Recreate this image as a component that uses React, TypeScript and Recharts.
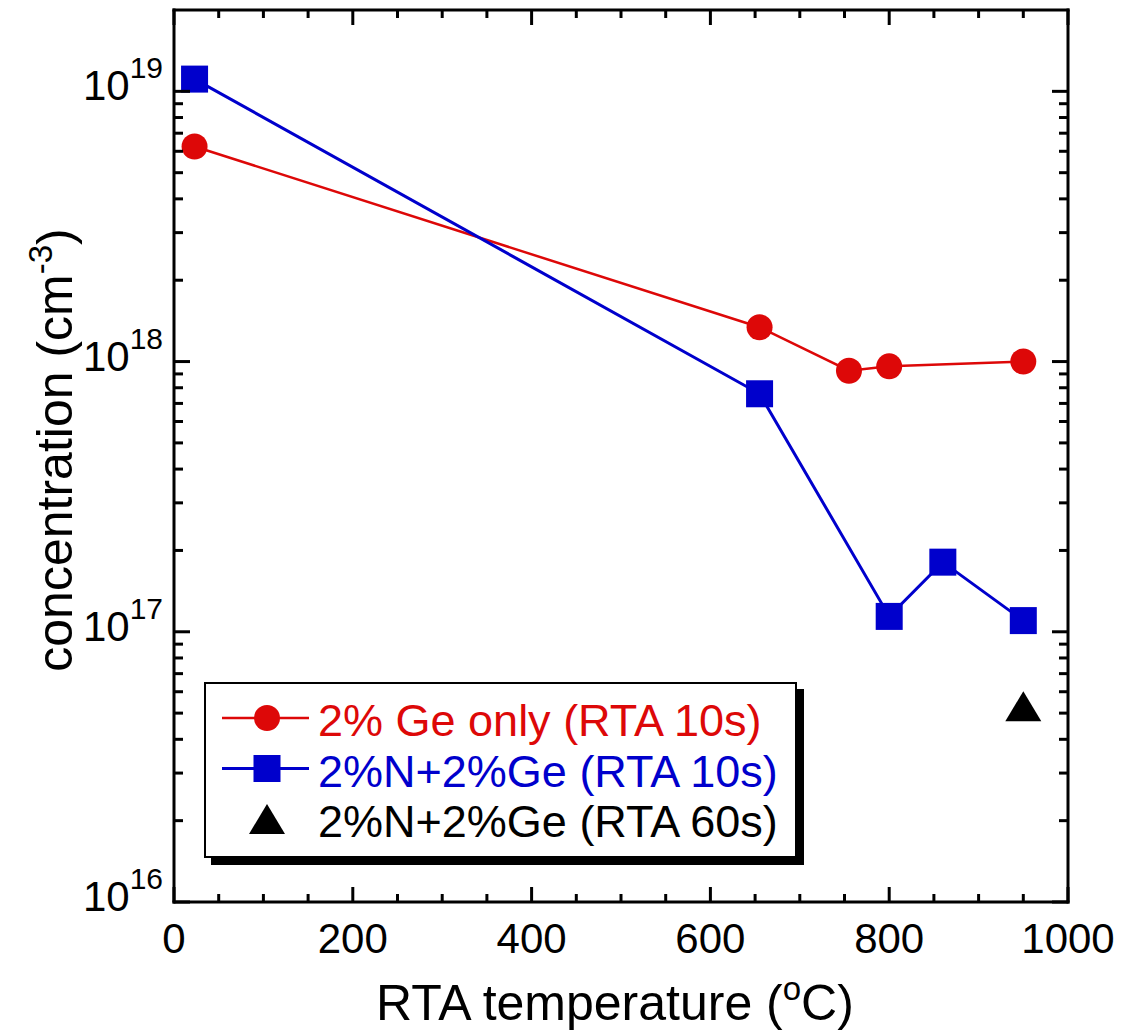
import React from 'react';
import { ComposedChart, Scatter, XAxis, YAxis, Legend } from 'recharts';

// ---- data ----
const geOnlyTemp = [23, 655, 755, 800, 950];
const geOnlyConc = [6.25e18, 1.34e18, 9.25e17, 9.6e17, 1.0e18];

const nGe10Temp = [23, 655, 800, 860, 950];
const nGe10Conc = [1.11e19, 7.6e17, 1.14e17, 1.81e17, 1.1e17];

const nGe60Temp = [950];
const nGe60Conc = [5.3e16];

const seriesNames = ['2% Ge only (RTA 10s)', '2%N+2%Ge (RTA 10s)', '2%N+2%Ge (RTA 60s)'];

const xTicks = [0, 50, 100, 150, 200, 250, 300, 350, 400, 450, 500, 550, 600, 650, 700, 750, 800, 850, 900, 950, 1000];
const xMajorTicks = [0, 200, 400, 600, 800, 1000];
const yDecades = [16, 17, 18, 19];
const yMultipliers = [1, 2, 3, 4, 5, 6, 7, 8, 9];
const xDomain = [0, 1000];
const yDomain = [1e16, 2e19];

const yTicks: number[] = [];
yDecades.forEach((d) => {
  yMultipliers.forEach((m) => {
    if (d === 19 && m > 1) return;
    yTicks.push(Number(`${m}e${d}`));
  });
});

const toPoints = (xs: number[], ys: number[]) => xs.map((t, i) => ({ t, c: ys[i] }));
const geOnlyData = toPoints(geOnlyTemp, geOnlyConc);
const nGe10Data = toPoints(nGe10Temp, nGe10Conc);
const nGe60Data = toPoints(nGe60Temp, nGe60Conc);

// ---- styles ----
const RED = '#DD0808';
const BLUE = '#0000CC';
const BLACK = '#000000';
const FONT = '"Liberation Sans", Arial, Helvetica, sans-serif';

const isMajorX = (v: number) => xMajorTicks.indexOf(v) >= 0;
const isMajorY = (v: number) => Math.abs(Math.log10(v) - Math.round(Math.log10(v))) < 1e-6;

const makeTick = (side: string) => (props: any) => {
  const x = Number(props.x);
  const y = Number(props.y);
  const v = props.payload.value;
  const vertical = side === 'left' || side === 'right';
  const major = vertical ? isMajorY(v) : isMajorX(v);
  const len = vertical ? (major ? 16 : 9) : major ? 15 : 8;
  const dx = side === 'left' ? len : side === 'right' ? -len : 0;
  const dy = side === 'bottom' ? -len : side === 'top' ? len : 0;
  return (
    <g>
      <line x1={x} x2={x + dx} y1={y} y2={y + dy} stroke={BLACK} strokeWidth={3} />
      {major && side === 'bottom' && (
        <text x={x} y={y + 51} textAnchor="middle" fontSize={42} fontFamily={FONT} fill={BLACK}>
          {v}
        </text>
      )}
      {major && side === 'left' && (
        <text x={x - 11} y={y + 9} textAnchor="end" fontFamily={FONT} fill={BLACK}>
          <tspan fontSize={42}>10</tspan>
          <tspan fontSize={30} dy={-22}>
            {Math.round(Math.log10(v))}
          </tspan>
        </text>
      )}
    </g>
  );
};

const bottomTick = makeTick('bottom');
const topTick = makeTick('top');
const leftTick = makeTick('left');
const rightTick = makeTick('right');

const CircleShape = (props: any) => <circle cx={props.cx} cy={props.cy} r={13} fill={RED} />;
const SquareShape = (props: any) => (
  <rect x={props.cx - 13.5} y={props.cy - 13.5} width={27} height={27} fill={BLUE} />
);
const TriangleShape = (props: any) => {
  const { cx, cy } = props;
  return <polygon points={`${cx - 18},${cy + 15} ${cx + 18},${cy + 15} ${cx},${cy - 15}`} fill={BLACK} />;
};
const EmptyShape = () => <g />;

const XTitle = (props: any) => {
  const vb = props.viewBox || { x: 174, y: 902, width: 894 };
  return (
    <text x={vb.x + vb.width / 2 - 6} y={vb.y + 118} textAnchor="middle" fontSize={50} fontFamily={FONT} fill={BLACK}>
      RTA temperature (
      <tspan fontSize={33} dy={-20}>o</tspan>
      <tspan dy={20}>C)</tspan>
    </text>
  );
};

const YTitle = () => {
  const cx = 72;
  const cy = 450;
  return (
    <text x={cx} y={cy} transform={`rotate(-90, ${cx}, ${cy})`} textAnchor="middle" fontSize={50} fontFamily={FONT} fill={BLACK}>
      concentration (cm
      <tspan fontSize={33} dy={-20}>-3</tspan>
      <tspan dy={20}>)</tspan>
    </text>
  );
};

const LegendBox = () => {
  const rows = [
    { name: seriesNames[0], color: RED, kind: 'circle' },
    { name: seriesNames[1], color: BLUE, kind: 'square' },
    { name: seriesNames[2], color: BLACK, kind: 'triangle' },
  ];
  return (
    <div
      style={{
        width: 593,
        height: 176,
        boxSizing: 'border-box',
        border: '2.5px solid #000',
        background: '#fff',
        boxShadow: '7px 7px 0 #000',
      }}
    >
      <svg width={588} height={171} style={{ display: 'block' }}>
        {rows.map((r, i) => {
          const ly = 34 + i * 50.5;
          const mx = 61;
          return (
            <g key={r.name}>
              {r.kind !== 'triangle' && (
                <line x1={16} x2={103} y1={ly} y2={ly} stroke={r.color} strokeWidth={r.kind === 'circle' ? 2.5 : 3} />
              )}
              {r.kind === 'circle' && <circle cx={mx} cy={ly} r={13} fill={r.color} />}
              {r.kind === 'square' && <rect x={mx - 13.5} y={ly - 13.5} width={27} height={27} fill={r.color} />}
              {r.kind === 'triangle' && (
                <polygon points={`${mx - 18},${ly + 15} ${mx + 18},${ly + 15} ${mx},${ly - 15}`} fill={r.color} />
              )}
              <text x={112} y={52 + i * 50.5} fontSize={45} fontFamily={FONT} fill={r.color}>
                {r.name}
              </text>
            </g>
          );
        })}
      </svg>
    </div>
  );
};

const axisLineStyle = { stroke: BLACK, strokeWidth: 3, strokeLinecap: 'square' as const };

export default function App() {
  return (
    <div style={{ position: 'absolute', left: 0, top: 0 }}>
      <ComposedChart width={1125} height={1034} margin={{ top: 9, right: 56, bottom: 0, left: 0 }}>
        <XAxis xAxisId="bottom" dataKey="t" type="number" domain={xDomain} ticks={xTicks} interval={0} allowDataOverflow
          height={132} axisLine={axisLineStyle} tickLine={false} tickSize={0} tickMargin={0} tick={bottomTick} label={XTitle} />
        <XAxis xAxisId="top" orientation="top" dataKey="t" type="number" domain={xDomain} ticks={xTicks} interval={0} allowDataOverflow
          height={1} axisLine={axisLineStyle} tickLine={false} tickSize={0} tickMargin={0} tick={topTick} />
        <YAxis yAxisId="left" dataKey="c" type="number" scale="log" domain={yDomain} ticks={yTicks} interval={0} allowDataOverflow
          width={174} axisLine={axisLineStyle} tickLine={false} tickSize={0} tickMargin={0} tick={leftTick} />
        <YAxis yAxisId="right" orientation="right" dataKey="c" type="number" scale="log" domain={yDomain} ticks={yTicks} interval={0} allowDataOverflow
          width={1} axisLine={axisLineStyle} tickLine={false} tickSize={0} tickMargin={0} tick={rightTick} label={YTitle} />
        <Scatter name={seriesNames[0]} xAxisId="bottom" yAxisId="left" data={geOnlyData} fill={RED}
          line={{ stroke: RED, strokeWidth: 2.5 }} lineType="joint" shape={CircleShape} isAnimationActive={false} />
        <Scatter name={seriesNames[1]} xAxisId="bottom" yAxisId="left" data={nGe10Data} fill={BLUE}
          line={{ stroke: BLUE, strokeWidth: 3 }} lineType="joint" shape={SquareShape} isAnimationActive={false} />
        <Scatter name={seriesNames[2]} xAxisId="bottom" yAxisId="left" data={nGe60Data} fill={BLACK}
          shape={TriangleShape} isAnimationActive={false} />
        <Scatter xAxisId="top" yAxisId="right" data={nGe60Data} fill="none" shape={EmptyShape} isAnimationActive={false} legendType="none" />
        <Legend content={LegendBox} layout="horizontal" verticalAlign="middle" align="center"
          wrapperStyle={{ left: 204, top: 682, width: 'auto', height: 'auto' }} />
      </ComposedChart>
    </div>
  );
}
